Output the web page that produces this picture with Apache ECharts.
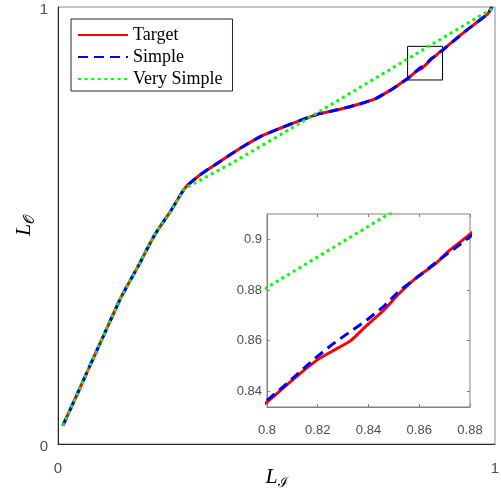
<!DOCTYPE html>
<html>
<head>
<meta charset="utf-8">
<script src="https://cdn.jsdelivr.net/npm/echarts@6/dist/echarts.min.js"></script>
<style>
  html, body { margin: 0; padding: 0; background: #fff; }
  #container { width: 501px; height: 493px; }
</style>
</head>
<body>
<div id="container"></div>
<script>
// Target curve (red)
var targetX = [0.011, 0.038, 0.069, 0.107, 0.145, 0.183, 0.221, 0.259, 0.290, 0.324, 0.370, 0.416, 0.462, 0.507, 0.553, 0.599, 0.645, 0.690, 0.728, 0.758, 0.781,
               0.800, 0.806, 0.813, 0.820, 0.826, 0.833, 0.839, 0.846, 0.852, 0.859, 0.866, 0.872, 0.880, 0.918, 0.934, 0.964, 0.983, 0.993];
var targetY = [0.042, 0.101, 0.170, 0.254, 0.337, 0.406, 0.478, 0.535, 0.585, 0.615, 0.646, 0.676, 0.703, 0.722, 0.740, 0.756, 0.766, 0.778, 0.791, 0.808, 0.823,
               0.8358, 0.841, 0.847, 0.8525, 0.856, 0.860, 0.8657, 0.872, 0.8785, 0.885, 0.890, 0.8957, 0.902, 0.933, 0.946, 0.969, 0.984, 1.0];
// Simple curve (blue dashed)
var simpleX = [0.011, 0.038, 0.069, 0.107, 0.145, 0.183, 0.221, 0.259, 0.290, 0.324, 0.370, 0.416, 0.462, 0.507, 0.553, 0.599, 0.645, 0.690, 0.728, 0.758, 0.781,
               0.800, 0.8063, 0.8129, 0.8195, 0.8261, 0.8326, 0.8392, 0.8458, 0.8524, 0.8603, 0.8668, 0.8774, 0.880, 0.918, 0.934, 0.964, 0.983, 0.993];
var simpleY = [0.042, 0.101, 0.170, 0.254, 0.337, 0.406, 0.478, 0.535, 0.585, 0.615, 0.646, 0.676, 0.703, 0.722, 0.740, 0.756, 0.766, 0.778, 0.791, 0.808, 0.823,
               0.8364, 0.8417, 0.8476, 0.8535, 0.8588, 0.8634, 0.8680, 0.8733, 0.8799, 0.8858, 0.8911, 0.8990, 0.901, 0.933, 0.946, 0.969, 0.984, 1.0];
// Very simple curve (green dotted)
var vsimpleX = [0.011, 0.038, 0.069, 0.107, 0.145, 0.183, 0.221, 0.259, 0.290, 0.393, 0.530, 0.800, 0.848, 1.0];
var vsimpleY = [0.042, 0.101, 0.170, 0.254, 0.337, 0.406, 0.478, 0.535, 0.585, 0.640, 0.720, 0.881, 0.910, 1.0];

var zoomBoxX = [0.8, 0.88];
var zoomBoxY = [0.833, 0.91];
var insetYTicks = [0.84, 0.86, 0.88, 0.9];
var insetXTicks = [0.8, 0.82, 0.84, 0.86, 0.88];

function pairs(xs, ys) {
  return xs.map(function (x, i) { return [x, ys[i]]; });
}

var tickFont = { fontFamily: 'Liberation Sans', color: '#4d4d4d' };
var nameRich = {
  L: { fontFamily: 'Liberation Serif', fontStyle: 'italic', fontSize: 22, color: '#000' },
  s: { fontFamily: 'DejaVu Serif', fontSize: 14, color: '#000', padding: [12, 0, 0, 0], verticalAlign: 'bottom' }
};

var redStyle = { color: '#ff0000', width: 3, type: 'solid' };
var blueStyle = { color: '#0000ff', width: 3, type: [10, 6], cap: 'butt' };
var greenStyle = { color: '#00ff00', width: 3, type: [3, 3.6], cap: 'butt' };

function mkSeries(name, data, style, grid, smooth) {
  return {
    name: name, type: 'line', data: data,
    xAxisIndex: grid, yAxisIndex: grid,
    symbol: 'none', lineStyle: style, itemStyle: { color: style.color },
    smooth: smooth,
    clip: true, silent: true, animation: false, z: grid ? 7 : 3
  };
}

var chart = echarts.init(document.getElementById('container'));
var target0 = mkSeries('Target', pairs(targetX, targetY), redStyle, 0, 0.2);
target0.markArea = {
  silent: true,
  itemStyle: { color: 'rgba(0,0,0,0)', borderColor: '#000', borderWidth: 1 },
  data: [[{ coord: [zoomBoxX[0], zoomBoxY[0]] }, { coord: [zoomBoxX[1], zoomBoxY[1]] }]]
};

var option = {
  animation: false,
  grid: [
    { left: 58, top: 7, width: 437, height: 437, outerBoundsMode: 'none', containLabel: false,
      show: true, borderColor: '#8c8c8c', borderWidth: 1, backgroundColor: '#fff' },
    { left: 267, top: 214, width: 203, height: 193, outerBoundsMode: 'none', containLabel: false,
      show: true, borderColor: '#808080', borderWidth: 1, backgroundColor: '#fff', z: 5 }
  ],
  xAxis: [
    { type: 'value', gridIndex: 0, min: 0, max: 1, interval: 1,
      axisLine: { lineStyle: { color: '#262626' } }, axisTick: { show: false }, splitLine: { show: false },
      axisLabel: Object.assign({ fontSize: 15, margin: 17 }, tickFont),
      name: '{L|L}{s|ℐ}', nameLocation: 'middle', nameGap: 20, nameMoveOverlap: false,
      nameTextStyle: { rich: nameRich } },
    { type: 'value', gridIndex: 1, min: 0.8, max: 0.88, z: 6,
      axisLine: { lineStyle: { color: '#808080' } }, splitLine: { show: false },
      axisTick: { inside: true, length: 3, customValues: insetXTicks, lineStyle: { color: '#808080' } },
      axisLabel: Object.assign({ fontSize: 13, margin: 17, customValues: insetXTicks }, tickFont) },
    { type: 'value', gridIndex: 1, min: 0.8, max: 0.88, position: 'top', z: 6,
      axisLine: { show: false }, splitLine: { show: false }, axisLabel: { show: false },
      axisTick: { inside: true, length: 3, customValues: insetXTicks, lineStyle: { color: '#808080' } } }
  ],
  yAxis: [
    { type: 'value', gridIndex: 0, min: 0, max: 1, interval: 1,
      axisLine: { lineStyle: { color: '#262626' } }, axisTick: { show: false }, splitLine: { show: false },
      axisLabel: Object.assign({ fontSize: 15, margin: 10, formatter: '{a|{value}}',
        rich: { a: { fontFamily: 'Liberation Sans', fontSize: 15, color: '#4d4d4d', padding: [6, 0, 0, 0] } } }, tickFont),
      name: '{L|L}{s|𝒪}', nameLocation: 'middle', nameGap: 21, nameMoveOverlap: false,
      nameTextStyle: { rich: nameRich } },
    { type: 'value', gridIndex: 1, min: 0.8338, max: 0.91, z: 6,
      axisLine: { lineStyle: { color: '#808080' } }, splitLine: { show: false },
      axisTick: { inside: true, length: 3, customValues: insetYTicks, lineStyle: { color: '#808080' } },
      axisLabel: Object.assign({ fontSize: 13, margin: 5, customValues: insetYTicks }, tickFont) },
    { type: 'value', gridIndex: 1, min: 0.8338, max: 0.91, position: 'right', z: 6,
      axisLine: { show: false }, splitLine: { show: false }, axisLabel: { show: false },
      axisTick: { inside: true, length: 3, customValues: insetYTicks, lineStyle: { color: '#808080' } } }
  ],
  legend: {
    left: 71, top: 19, orient: 'vertical',
    data: ['Target', 'Simple', 'Very Simple'],
    backgroundColor: '#fff', borderColor: '#262626', borderWidth: 1, borderRadius: 0,
    padding: [7, 10, 3, 6], itemWidth: 50, itemHeight: 14, itemGap: 4,
    itemStyle: { opacity: 0 },
    textStyle: { fontFamily: 'Liberation Serif', fontSize: 18, color: '#000', lineHeight: 14 },
    selectedMode: false, z: 10
  },
  series: [
    target0,
    mkSeries('Simple', pairs(simpleX, simpleY), blueStyle, 0, 0.2),
    mkSeries('Very Simple', pairs(vsimpleX, vsimpleY), greenStyle, 0, false),
    mkSeries('Target', pairs(targetX, targetY), redStyle, 1, 0.2),
    mkSeries('Simple', pairs(simpleX, simpleY), blueStyle, 1, false),
    mkSeries('Very Simple', pairs(vsimpleX, vsimpleY), greenStyle, 1, false)
  ]
};
chart.setOption(option);
</script>
</body>
</html>
